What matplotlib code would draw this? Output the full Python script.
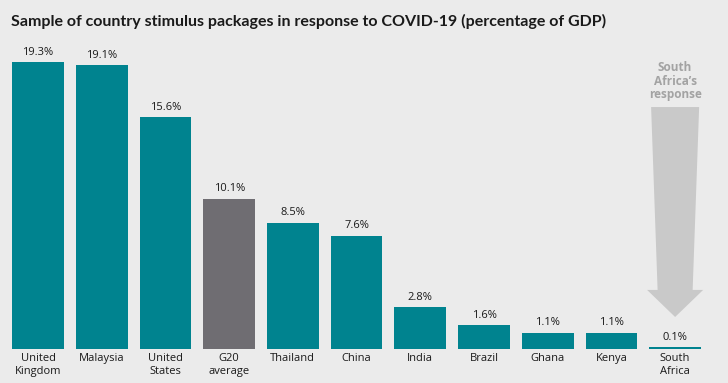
import matplotlib.pyplot as plt
from matplotlib.patches import Polygon

# data
countries = ['United\nKingdom', 'Malaysia', 'United\nStates', 'G20\naverage', 'Thailand',
             'China', 'India', 'Brazil', 'Ghana', 'Kenya', 'South\nAfrica']
values = [19.3, 19.1, 15.6, 10.1, 8.5, 7.6, 2.8, 1.6, 1.1, 1.1, 0.1]
labels = ['19.3%', '19.1%', '15.6%', '10.1%', '8.5%', '7.6%', '2.8%', '1.6%', '1.1%', '1.1%', '0.1%']

teal = '#00838f'
grey = '#6f6d72'
bg = '#ebebeb'
colors = [grey if c.startswith('G20') else teal for c in countries]

plt.rcParams['font.family'] = ['Open Sans', 'DejaVu Sans']

fig = plt.figure(figsize=(7.28, 3.83), dpi=100)
fig.patch.set_facecolor(bg)
ax = fig.add_axes([0, 0, 1, 1])
ax.set_facecolor(bg)

x = list(range(len(countries)))
ax.bar(x, values, width=0.81, color=colors)

for xi, v, lab in zip(x, values, labels):
    ax.text(xi, v + 0.3, lab, ha='center', va='bottom', fontsize=8, color='#1a1a1a')
for xi, c in zip(x, countries):
    ax.text(xi, -0.3, c, ha='center', va='top', fontsize=8, color='#1a1a1a', linespacing=1.2)

# arrow pointing at South Africa
sa = len(countries) - 1
arrow = Polygon([(sa - 0.377, 16.27), (sa + 0.377, 16.27), (sa + 0.275, 3.97), (sa + 0.44, 3.97),
                 (sa, 2.15), (sa - 0.44, 3.97), (sa - 0.275, 3.97)],
                closed=True, facecolor='#c9c9c9', edgecolor='none')
ax.add_patch(arrow)
ax.text(sa, 16.65, "South\nAfrica\u2019s\nresponse", ha='center', va='bottom', fontsize=8.5,
        fontweight='bold', color='#a3a3a3', linespacing=1.05)

ax.text(-0.42, 22.05, 'Sample of country stimulus packages in response to COVID-19 (percentage of GDP)',
        ha='left', va='center', fontsize=11.5, fontweight='bold', color='#1a1a1a',
        family=['Lato', 'DejaVu Sans'])

ax.set_xlim(-0.597, 10.83)
ax.set_ylim(-2.29, 23.47)
ax.axis('off')

fig.savefig('out.png', dpi=100, facecolor=bg)
